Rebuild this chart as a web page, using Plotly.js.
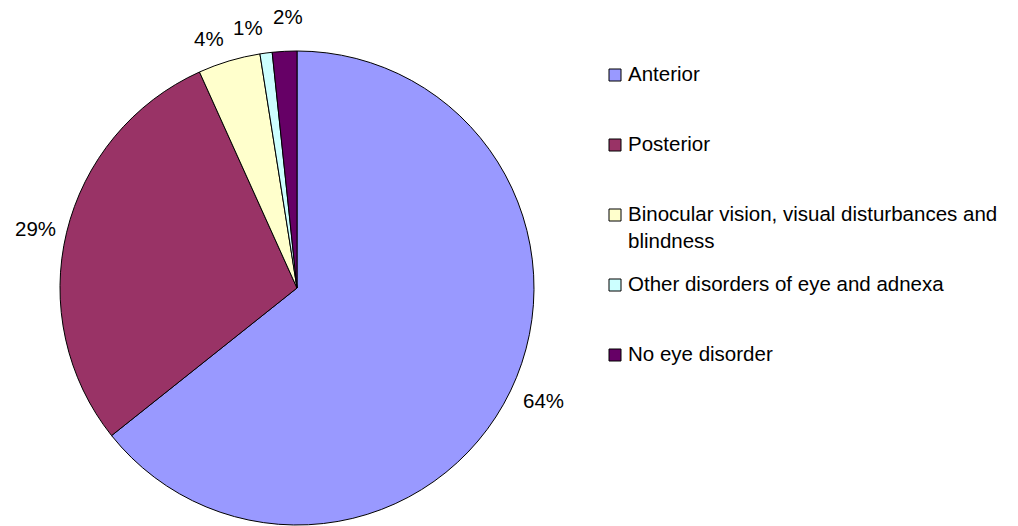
<!DOCTYPE html>
<html>
<head>
<meta charset="utf-8">
<script src="https://cdn.plot.ly/plotly-3.0.1.min.js"></script>
<style>html,body{margin:0;padding:0;background:#fff;}#chart{width:1018px;height:526px;}</style>
</head>
<body>
<div id="chart"></div>
<script>
const categories = ["Anterior", "Posterior", "Binocular vision, visual disturbances and blindness", "Other disorders of eye and adnexa", "No eye disorder"];
const legendText = ["Anterior", "Posterior", "Binocular vision, visual disturbances and<br>blindness", "Other disorders of eye and adnexa", "No eye disorder"];
const values = [64.3, 28.95, 4.25, 0.83, 1.67];
const colors = ["#9999FF", "#993366", "#FFFFCC", "#CCFFFF", "#660066"];
// small nudges (px) for the outside percent labels, to mimic the original label collision avoidance
const labelNudge = [[4, 0], [0, 1], [-12, -1], [-15, -4], [5, -13]];

const W = 1018, H = 526;
const cx = 297, cy = 288, R = 237;
const FONT = "Liberation Sans, Arial, Helvetica, sans-serif";
const FS = 20.5;

const trace = {
  type: "pie",
  labels: categories,
  values: values,
  sort: false,
  direction: "clockwise",
  rotation: 0,
  marker: {colors: colors, line: {color: "#000000", width: 1}},
  textinfo: "none",
  hoverinfo: "none",
  showlegend: false,
  domain: {x: [(cx - R) / W, (cx + R) / W], y: [(H - cy - R) / H, (H - cy + R) / H]}
};

const shapes = [];
const annotations = [];

// percent labels around the pie, positioned from the data
const total = values.reduce((a, b) => a + b, 0);
let cum = 0;
values.forEach((v, i) => {
  const th = 2 * Math.PI * (cum + v / 2) / total;
  cum += v;
  const txt = Math.round(100 * v / total) + "%";
  const w = (txt.length - 1) * 0.556 * FS + 0.889 * FS;
  const h = 20;
  const r = R + 12;
  const px = cx + r * Math.sin(th), py = cy - r * Math.cos(th);
  const x = px + Math.sin(th) * w / 2 + labelNudge[i][0];
  const y = py - Math.cos(th) * h / 2 + labelNudge[i][1];
  annotations.push({
    xref: "paper", yref: "paper", x: x / W, y: (H - y) / H,
    xanchor: "center", yanchor: "middle", showarrow: false,
    text: txt, font: {family: FONT, size: FS, color: "#000"}
  });
});

// legend
const rowTop = 75, rowGap = 70;
categories.forEach((c, i) => {
  const yc = rowTop + i * rowGap;
  shapes.push({
    type: "rect", xref: "paper", yref: "paper",
    x0: 609 / W, x1: 621 / W, y0: (H - (yc - 6)) / H, y1: (H - (yc + 6)) / H,
    fillcolor: colors[i], line: {color: "#000", width: 1}
  });
  annotations.push({
    xref: "paper", yref: "paper", x: 626 / W, y: (H - (yc - 15)) / H,
    xanchor: "left", yanchor: "top", align: "left", showarrow: false,
    text: legendText[i],
    font: {family: FONT, size: FS, color: "#000"}
  });
});

const layout = {
  width: W, height: H,
  margin: {l: 0, r: 0, t: 0, b: 0},
  paper_bgcolor: "#fff",
  showlegend: false,
  shapes: shapes,
  annotations: annotations
};

Plotly.newPlot("chart", [trace], layout, {staticPlot: true, displayModeBar: false});
</script>
</body>
</html>
